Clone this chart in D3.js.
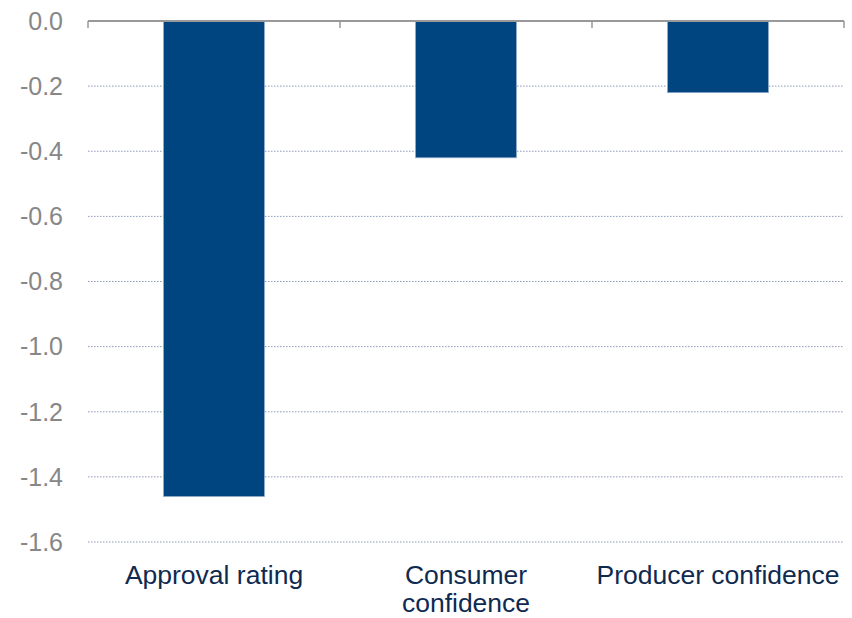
<!DOCTYPE html>
<html>
<head>
<meta charset="utf-8">
<script src="https://cdn.jsdelivr.net/npm/d3@7"></script>
<style>
  html, body { margin: 0; padding: 0; background: #ffffff; }
  svg { display: block; font-family: Arial, "Liberation Sans", sans-serif; }
</style>
</head>
<body>
<svg id="chart" width="852" height="618"></svg>
<script>
const categories = ["Approval rating", "Consumer confidence", "Producer confidence"];
const values = [-1.46, -0.42, -0.22];
const yTicks = [0, -0.2, -0.4, -0.6, -0.8, -1.0, -1.2, -1.4, -1.6];

const svg = d3.select("#chart");
const mLeft = 88, mRight = 844, mTop = 21, mBottom = 542;

const x = d3.scaleBand().domain(categories).range([mLeft, mRight]).paddingInner(0.6).paddingOuter(0.3);
const xb = d3.scaleBand().domain(categories).range([mLeft, mRight]);
const y = d3.scaleLinear().domain([-1.6, 0]).range([mBottom, mTop]);

// gridlines
svg.append("g").selectAll("line").data(yTicks.filter(d => d !== 0)).join("line")
  .attr("x1", mLeft).attr("x2", mRight)
  .attr("y1", d => y(d)).attr("y2", d => y(d))
  .attr("stroke", "#8e98b8").attr("stroke-width", 1)
  .attr("stroke-dasharray", "1.5,1.5");

// y tick labels
svg.append("g").selectAll("text").data(yTicks).join("text")
  .attr("x", 63).attr("y", d => y(d))
  .attr("dy", "0.35em")
  .attr("text-anchor", "end")
  .attr("font-size", 25)
  .attr("fill", "#878787")
  .text(d => d3.format(".1f")(d).replace("−", "-"));

// bars
svg.append("g").selectAll("rect").data(categories).join("rect")
  .attr("x", d => x(d))
  .attr("width", x.bandwidth())
  .attr("y", y(0))
  .attr("height", (d, i) => y(values[i]) - y(0))
  .attr("fill", "#004480")
  .attr("stroke", "#8aa8c8").attr("stroke-width", 0.8);

// zero axis line with category boundary ticks
const zg = svg.append("g");
zg.append("line").attr("x1", mLeft).attr("x2", mRight).attr("y1", y(0)).attr("y2", y(0))
  .attr("stroke", "#999999").attr("stroke-width", 2);
const bounds = categories.map(c => xb(c)).concat([mRight]);
zg.selectAll("line.tk").data(bounds).join("line").attr("class", "tk")
  .attr("x1", d => d).attr("x2", d => d)
  .attr("y1", y(0)).attr("y2", y(0) + 7)
  .attr("stroke", "#999999").attr("stroke-width", 1.5);

// category labels with wrapping
const labels = svg.append("g").selectAll("text").data(categories).join("text")
  .attr("x", d => xb(d) + xb.bandwidth() / 2)
  .attr("y", 584)
  .attr("text-anchor", "middle")
  .attr("font-size", 26.5)
  .attr("fill", "#0f2a50");

labels.each(function(d) {
  const t = d3.select(this);
  const words = d.split(" ");
  let line = [];
  let tspan = t.append("tspan").attr("x", t.attr("x")).attr("dy", 0);
  words.forEach(w => {
    line.push(w);
    tspan.text(line.join(" "));
    if (tspan.node().getComputedTextLength() > 246 && line.length > 1) {
      line.pop();
      tspan.text(line.join(" "));
      line = [w];
      tspan = t.append("tspan").attr("x", t.attr("x")).attr("dy", 28).text(w);
    }
  });
});
</script>
</body>
</html>
